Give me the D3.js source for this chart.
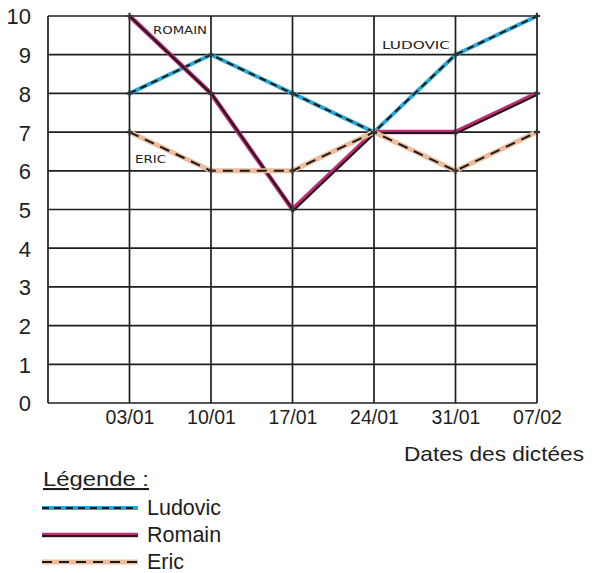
<!DOCTYPE html>
<html lang="fr">
<head>
<meta charset="utf-8">
<title>Dates des dictées</title>
<style>
    body { margin: 0; background: #fff; }
    svg { display: block; }
    .tick text { font-family: "Liberation Sans", Arial, sans-serif; fill: #1e1e1e; }
</style>
</head>
<body>
<svg id="chart" width="598" height="573"></svg>
<script src="https://d3js.org/d3.v7.min.js"></script>
<script>
    const dates = ["03/01", "10/01", "17/01", "24/01", "31/01", "07/02"];
    const yTicks = [0, 1, 2, 3, 4, 5, 6, 7, 8, 9, 10];
    const ludovic = [8, 9, 8, 7, 9, 10];
    const romain = [10, 8, 5, 7, 7, 8];
    const eric = [7, 6, 6, 7, 6, 7];
    const names = ["Ludovic", "Romain", "Eric"];
    const labels = ["ROMAIN", "LUDOVIC", "ERIC"];

    const svg = d3.select("#chart");
    const plotLeft = 48, plotRight = 537, plotTop = 16, plotBottom = 403;

    // first column is left empty, like on the paper
    const x = d3.scalePoint()
        .domain([""].concat(dates))
        .range([plotLeft, plotRight]);
    const y = d3.scaleLinear().domain([0, 10]).range([plotBottom, plotTop]);

    // grid
    const grid = svg.append("g").attr("stroke", "#1e1e1e").attr("stroke-width", 1.7);
    grid.selectAll(".h").data(yTicks).enter().append("line")
        .attr("x1", plotLeft).attr("x2", plotRight)
        .attr("y1", d => y(d)).attr("y2", d => y(d));
    grid.selectAll(".v").data(x.domain()).enter().append("line")
        .attr("x1", d => x(d)).attr("x2", d => x(d))
        .attr("y1", plotTop).attr("y2", plotBottom);

    // axes (labels only)
    const yAxis = svg.append("g")
        .attr("transform", "translate(" + plotLeft + ",0)")
        .call(d3.axisLeft(y).tickValues(yTicks).tickSize(0).tickPadding(17));
    yAxis.select(".domain").remove();
    yAxis.selectAll("text").attr("font-size", 22).attr("dy", "0.36em");

    const xAxis = svg.append("g")
        .attr("transform", "translate(0," + plotBottom + ")")
        .call(d3.axisBottom(x).tickValues(dates).tickSize(0).tickPadding(7));
    xAxis.select(".domain").remove();
    xAxis.selectAll("text").attr("font-size", 19.5);

    svg.append("text")
        .attr("x", 404).attr("y", 461)
        .attr("font-family", "Liberation Sans, Arial, sans-serif")
        .attr("font-size", 21).attr("fill", "#1e1e1e")
        .attr("textLength", 180).attr("lengthAdjust", "spacingAndGlyphs")
        .text("Dates des dictées");

    const line = d3.line()
        .x((d, i) => x(dates[i]))
        .y(d => y(d));

    const series = [
        { values: ludovic, color: "#2ba7d6", width: 4, black: "7,5", bw: 2 },
        { values: romain, color: "#c42a78", width: 4.5, black: null, bw: 2 },
        { values: eric, color: "#ebbd9d", width: 5, black: "10,7", bw: 2 }
    ];

    series.forEach(s => {
        svg.append("path").datum(s.values)
            .attr("d", line).attr("fill", "none")
            .attr("stroke", s.color).attr("stroke-width", s.width)
            .attr("stroke-linejoin", "round");
        svg.append("path").datum(s.values)
            .attr("d", line).attr("fill", "none")
            .attr("stroke", "#1a1a1a").attr("stroke-width", s.bw)
            .attr("stroke-dasharray", s.black)
            .attr("transform", s.black ? null : "translate(1,1)");
        svg.selectAll(null).data(s.values).enter().append("path")
            .attr("d", d3.symbol(d3.symbolCross, 22))
            .attr("transform", (d, i) => "translate(" + x(dates[i]) + "," + y(d) + ")")
            .attr("fill", "#333");
    });

    // hand written names on the chart
    const hand = svg.append("g")
        .attr("font-family", "DejaVu Sans, sans-serif")
        .attr("font-size", 11).attr("fill", "#222")
        .attr("lengthAdjust", "spacingAndGlyphs");
    hand.append("text").attr("x", 153).attr("y", 34).attr("textLength", 54)
        .attr("lengthAdjust", "spacingAndGlyphs").text(labels[0]);
    hand.append("text").attr("x", 382).attr("y", 49).attr("textLength", 68)
        .attr("lengthAdjust", "spacingAndGlyphs").text(labels[1]);
    hand.append("text").attr("x", 135).attr("y", 163).attr("font-size", 10)
        .attr("textLength", 31).attr("lengthAdjust", "spacingAndGlyphs").text(labels[2]);

    // legend
    const lg = svg.append("g").attr("font-family", "Liberation Sans, Arial, sans-serif")
        .attr("fill", "#1e1e1e");
    lg.append("text").attr("x", 43).attr("y", 486).attr("font-size", 21)
        .attr("text-decoration", "underline")
        .attr("textLength", 106).attr("lengthAdjust", "spacingAndGlyphs")
        .text("Légende :");
    series.forEach((s, i) => {
        const ly = 508 + i * 27;
        lg.append("line").attr("x1", 42).attr("x2", 138).attr("y1", ly).attr("y2", ly)
            .attr("stroke", s.color).attr("stroke-width", s.width);
        lg.append("line").attr("x1", 42).attr("x2", 138).attr("y1", ly).attr("y2", ly)
            .attr("stroke", "#1a1a1a").attr("stroke-width", s.bw)
            .attr("stroke-dasharray", s.black)
            .attr("transform", s.black ? null : "translate(0,1)");
        lg.append("text").attr("x", 147).attr("y", ly + 7).attr("font-size", 21.5)
            .text(names[i]);
    });
</script>
</body>
</html>
